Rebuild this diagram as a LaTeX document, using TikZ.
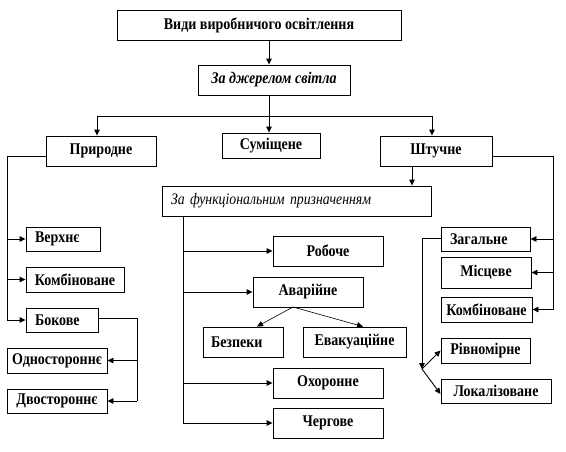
\documentclass[tikz,border=0pt]{standalone}
\usepackage{fontspec}
\setmainfont{Liberation Serif}[FakeStretch=0.86]
\usetikzlibrary{arrows.meta}

\begin{document}
\begin{tikzpicture}[x=1pt,y=-1pt]
\tikzset{
  box/.style={draw,line width=0.9pt,inner sep=1pt,font=\fontsize{16.3}{18}\selectfont\bfseries},
  lbox/.style={box,align=left,inner xsep=9pt,text width=#1},
  head/.style={box,font=\fontsize{16.3}{18}\selectfont\bfseries\itshape},
  subhead/.style={box,align=left,inner xsep=9pt,text width=251pt,font=\fontsize{16}{18}\selectfont\itshape},
  link/.style={line width=0.9pt},
  directed/.style={link,-{Triangle[length=6pt,width=5.5pt]}}
}
\useasboundingbox (0,0) rectangle (566,451);
% levels 1-2
\node[box,minimum width=284pt,minimum height=30pt] (n_title) at (259,25) {Види виробничого освітлення};
\node[head,minimum width=152pt,minimum height=30pt] (n_src) at (274,80) {За джерелом світла};
\node[box,minimum width=110pt,minimum height=30pt] (n_nat) at (101,151) {Природне};
\node[box,minimum width=98pt,minimum height=25pt] (n_mix) at (271,145.5) {Суміщене};
\node[box,minimum width=112pt,minimum height=30pt] (n_art) at (436,151) {Штучне};
\node[subhead,minimum width=269pt,minimum height=30pt] (n_func) at (296.5,201) {За функціональним призначенням};
% natural
\node[lbox=56pt,minimum height=24pt] (n_top) at (63,239) {Верхнє};
\node[box,minimum width=98pt,minimum height=25pt] (n_combl) at (75,279.5) {Комбіноване};
\node[lbox=54pt,minimum height=24pt] (n_side) at (62,320) {Бокове};
\node[box,minimum width=100pt,minimum height=25pt] (n_one) at (57,360.5) {Одностороннє};
\node[box,minimum width=100pt,minimum height=24pt] (n_two) at (57,401) {Двостороннє};
% function
\node[box,minimum width=110pt,minimum height=30pt] (n_work) at (328,251) {Робоче};
\node[box,minimum width=110pt,minimum height=30pt] (n_emg) at (308,292) {Аварійне};
\node[lbox=64pt,inner xsep=8pt,minimum height=30pt] (n_safe) at (243,342) {Безпеки};
\node[box,minimum width=103pt,minimum height=30pt] (n_evac) at (354.5,342) {Евакуаційне};
\node[box,minimum width=110pt,minimum height=30pt] (n_guard) at (328,383) {Охоронне};
\node[box,minimum width=110pt,minimum height=30pt] (n_duty) at (328,423) {Чергове};
% artificial
\node[lbox=71pt,minimum height=24pt] (n_gen) at (485.5,239) {Загальне};
\node[box,minimum width=90pt,minimum height=31pt] (n_loc) at (486,272.5) {Місцеве};
\node[box,minimum width=91pt,minimum height=25pt] (n_combr) at (486.5,309.5) {Комбіноване};
\node[box,minimum width=89pt,minimum height=25pt] (n_uni) at (485.5,350.5) {Рівномірне};
\node[box,minimum width=110pt,minimum height=24pt] (n_lcl) at (496,391) {Локалізоване};
% junctions
\coordinate (c_top) at (269,116);
\coordinate (c_left) at (7,156);
\coordinate (c_side) at (137,318);
\coordinate (c_func) at (412,176);
\coordinate (c_right) at (553,156);
\coordinate (c_mid) at (183,216);
\coordinate (c_emg) at (293,307);
\coordinate (c_gen) at (422,238);
\coordinate (c_end) at (422,369);
\draw[directed] (n_title.south -| c_top) -- (n_src.north -| c_top);
\draw[link] (n_src.south -| c_top) -- (c_top);
\draw[link] (97,116) -- (432,116);
\draw[directed] (97,116) -- (n_nat.north -| 97,0);
\draw[directed] (c_top) -- (n_mix.north -| c_top);
\draw[directed] (432,116) -- (n_art.north -| 432,0);
\draw[link] (n_nat.west |- c_left) -- (c_left) -- (c_left |- n_side);
\draw[directed] (c_left |- n_top) -- (n_top.west);
\draw[directed] (c_left |- n_combl) -- (n_combl.west);
\draw[directed] (c_left |- n_side) -- (n_side.west);
\draw[link] (n_side.east |- c_side) -- (c_side) -- (c_side |- n_two);
\draw[directed] (c_side |- n_one) -- (n_one.east);
\draw[directed] (c_side |- n_two) -- (n_two.east);
\draw[directed] (n_art.south -| c_func) -- (n_func.north -| c_func);
\draw[link] (n_art.east |- c_right) -- (c_right) -- (c_right |- n_combr);
\draw[directed] (c_right |- n_gen) -- (n_gen.east);
\draw[directed] (c_right |- n_loc) -- (n_loc.east);
\draw[directed] (c_right |- n_combr) -- (n_combr.east);
\draw[link] (c_mid) -- (c_mid |- n_duty);
\draw[directed] (c_mid |- n_work) -- (n_work.west);
\draw[directed] (c_mid |- n_emg) -- (n_emg.west);
\draw[directed] (c_mid |- n_guard) -- (n_guard.west);
\draw[directed] (c_mid |- n_duty) -- (n_duty.west);
\draw[directed,line width=0.6pt] (c_emg) -- ([xshift=14pt]n_safe.north);
\draw[directed,line width=0.6pt] (c_emg) -- ([xshift=8.5pt]n_evac.north);
\draw[link] (n_gen.west |- c_gen) -- (c_gen);
\draw[directed] (c_gen) -- (c_end);
\draw[directed] (c_end) -- (n_uni.west);
\draw[directed] (c_end) -- ([yshift=-3pt]n_lcl.west);
\end{tikzpicture}
\end{document}
